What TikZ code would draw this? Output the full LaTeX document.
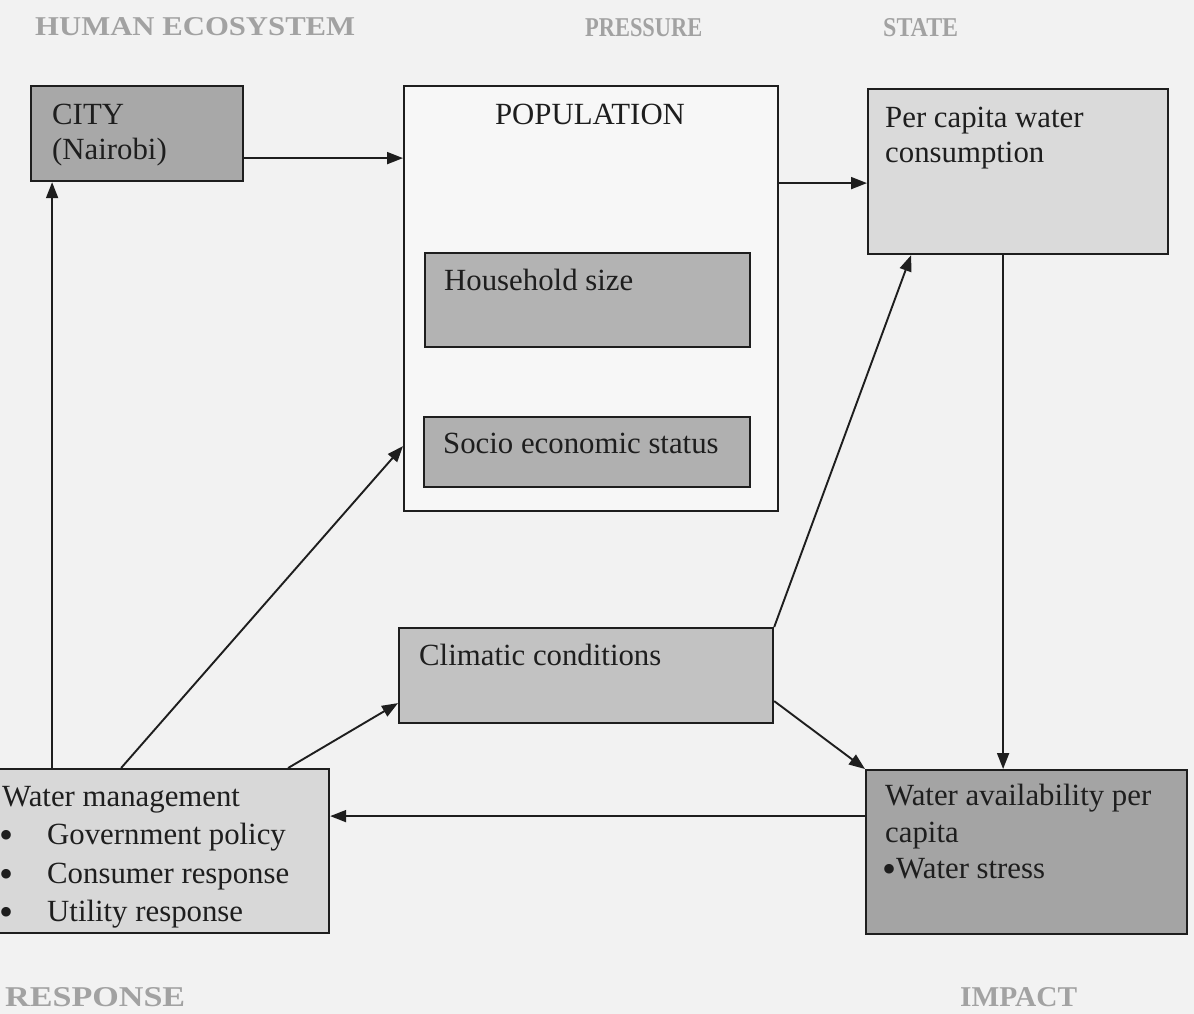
\documentclass[tikz,border=0pt]{standalone}
\usepackage{graphicx}
\usepackage{fontspec}
\setmainfont{Liberation Serif}
\usetikzlibrary{arrows.meta,calc}
\definecolor{bgc}{HTML}{F2F2F2}
\definecolor{popc}{HTML}{F7F7F7}
\definecolor{cityc}{HTML}{A8A8A8}
\definecolor{hhc}{HTML}{B3B3B3}
\definecolor{socc}{HTML}{B0B0B0}
\definecolor{pcc}{HTML}{DADADA}
\definecolor{climc}{HTML}{C2C2C2}
\definecolor{wac}{HTML}{A4A4A4}
\definecolor{wmc}{HTML}{D8D8D8}
\definecolor{inkc}{HTML}{1E1E1E}
\definecolor{hdrc}{HTML}{A2A2A2}
\newcommand{\bigbul}{\raisebox{-4pt}{\scalebox{1.3}{\textbullet}}}
\tikzset{
  box/.style={draw=inkc, line width=2.2pt, rectangle, inner sep=0pt, anchor=north west},
  txt/.style={font=\fontsize{30.8}{37}\selectfont, inner sep=0pt, anchor=base west, text=inkc},
  arr/.style={line width=1.9pt, draw=inkc, -{Triangle[length=16pt,width=12pt]}},
  hdr/.style={inner sep=0pt, anchor=base west, text=hdrc}
}
\begin{document}
\begin{tikzpicture}[x=1pt,y=-1pt]
\useasboundingbox (0,0) rectangle (1194,1014);
\fill[bgc] (0,0) rectangle (1194,1014);

% headers
\node[hdr] (hhe) at (35,36) {\resizebox{320pt}{18pt}{\bfseries HUMAN ECOSYSTEM}};
\node[hdr] (hpr) at (585,37) {\resizebox{117pt}{18pt}{\bfseries PRESSURE}};
\node[hdr] (hst) at (883,37) {\resizebox{75pt}{18pt}{\bfseries STATE}};
\node[hdr] (hre) at (5,1006) {\resizebox{180pt}{19pt}{\bfseries RESPONSE}};
\node[hdr] (him) at (960,1006) {\resizebox{117pt}{19pt}{\bfseries IMPACT}};

% boxes
\node[box, fill=cityc, minimum width=212pt, minimum height=95pt] (city) at (30,85) {};
\node[box, fill=popc, minimum width=374pt, minimum height=425pt] (pop) at (403,85) {};
\node[box, fill=hhc, minimum width=325pt, minimum height=94pt] (hh) at (424,252) {};
\node[box, fill=socc, minimum width=326pt, minimum height=70pt] (soc) at (423,416) {};
\node[box, fill=pcc, minimum width=300pt, minimum height=165pt] (pc) at (867,88) {};
\node[box, fill=climc, minimum width=374pt, minimum height=95pt] (clim) at (398,627) {};
\node[box, fill=wac, minimum width=321pt, minimum height=164pt] (wa) at (865,769) {};
\node[box, fill=wmc, minimum width=338pt, minimum height=164pt] (wm) at (-10,768) {};

% texts
\node[txt] (t1) at (52,125) {CITY};
\node[txt] (t2) at (52,160) {(Nairobi)};
\node[txt, anchor=base] (t3) at (590,125) {POPULATION};
\node[txt] (t4) at (444,290) {Household size};
\node[txt] (t5) at (443,453) {Socio economic status};
\node[txt] (t6) at (885,128) {Per capita water};
\node[txt] (t7) at (885,163) {consumption};
\node[txt] (t8) at (419,665) {Climatic conditions};
\node[txt] (t9) at (885,805) {Water availability per};
\node[txt] (t10) at (885,842) {capita};
\node[txt] (t11) at (882,878) {\bigbul Water stress};
\node[txt] (t12) at (2,806) {Water management};
\node[txt] (b1) at (-1,844) {\bigbul};
\node[txt] (t13) at (47,844) {Government policy};
\node[txt] (b2) at (-1,883) {\bigbul};
\node[txt] (t14) at (47,883) {Consumer response};
\node[txt] (b3) at (-1,921) {\bigbul};
\node[txt] (t15) at (47,921) {Utility response};

% connectors
\draw[arr] ([yshift=-24.5pt]city.east) -- ([yshift=-24.5pt]city.east -| pop.west);
\draw[arr] ([yshift=-11.5pt]pc.west -| pop.east) -- ([yshift=-11.5pt]pc.west);
\draw[arr] ([xshift=-15pt]pc.south) -- ([xshift=-15pt]pc.south |- wa.north);
\draw[arr] ([yshift=-25.5pt]clim.east) -- (wa.north west);
\draw[arr] (clim.north east) -- ([xshift=-107pt]pc.south);
\draw[arr] ([yshift=36pt]wa.west) -- ([yshift=36pt]wa.west -| wm.east);
\draw[arr] ([xshift=-108pt]wm.north) -- ([xshift=-108pt]wm.north |- city.south);
\draw[arr] ([xshift=-39pt]wm.north) -- ([yshift=6pt]soc.west -| pop.west);
\draw[arr] ([xshift=128pt]wm.north) -- ([yshift=-27.5pt]clim.west);
\end{tikzpicture}
\end{document}
